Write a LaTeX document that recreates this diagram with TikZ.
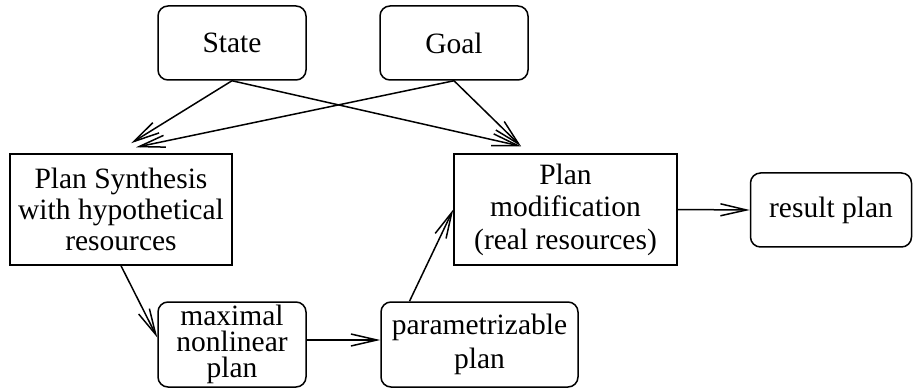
\documentclass[tikz,border=0pt]{standalone}
\usepackage{fontspec}
\setmainfont{Liberation Serif}
\usetikzlibrary{arrows.meta}
\begin{document}
\begin{tikzpicture}[x=1pt,y=-1pt,
  every node/.style={font=\fontsize{29.5}{31}\selectfont, align=center, inner sep=0pt},
  roundbox/.style={draw, line width=1.5pt, rounded corners=10pt},
  squarebox/.style={draw, line width=1.5pt},
  arr/.style={line width=1.5pt, -{Straight Barb[length=26pt,width=12pt,line width=1.5pt]}}]
  \useasboundingbox (0,0) rectangle (913,390);

  % inputs
  \node[roundbox, minimum width=148pt, minimum height=74pt] (state) at (232,43) {State};
  \node[roundbox, minimum width=148pt, minimum height=74pt] (goal) at (454,43) {Goal};

  % planning stages
  \node[squarebox, minimum width=222pt, minimum height=111pt] (synth) at (121,209.5)
    {Plan Synthesis\\with hypothetical\\resources};
  \node[squarebox, minimum width=223pt, minimum height=111pt,
        font=\fontsize{29.5}{32.5}\selectfont] (mod) at (565.5,209.5)
    {Plan\\modification\\(real resources)};
  \node[roundbox, minimum width=161pt, minimum height=74pt] (result) at (831,210) {result plan};
  \node[roundbox, minimum width=148pt, minimum height=85pt,
        font=\fontsize{29.5}{26}\selectfont] (maxplan) at (232,344.5)
    {maximal\\nonlinear\\plan};
  \node[roundbox, minimum width=197pt, minimum height=85pt,
        font=\fontsize{29.5}{34}\selectfont] (param) at (479.5,344.5)
    {parametrizable\\plan};

  % connectors
  \draw[arr] (state.south) -- ([xshift=10pt,yshift=10pt]synth.north);
  \draw[arr] (goal.south) -- ([xshift=15pt,yshift=6pt]synth.north);
  \draw[arr] (state.south) -- ([xshift=-44.5pt,yshift=7pt]mod.north);
  \draw[arr] (goal.south) -- ([xshift=-44.5pt,yshift=7pt]mod.north);
  \draw[arr] (synth.south) -- ([yshift=7pt]maxplan.west);
  \draw[arr] ([yshift=4.5pt]maxplan.east) -- ([yshift=4.5pt]param.west);
  \draw[arr] ([xshift=-70pt]param.north) -- (mod.west);
  \draw[arr] (mod.east) -- (result.west);
\end{tikzpicture}
\end{document}
